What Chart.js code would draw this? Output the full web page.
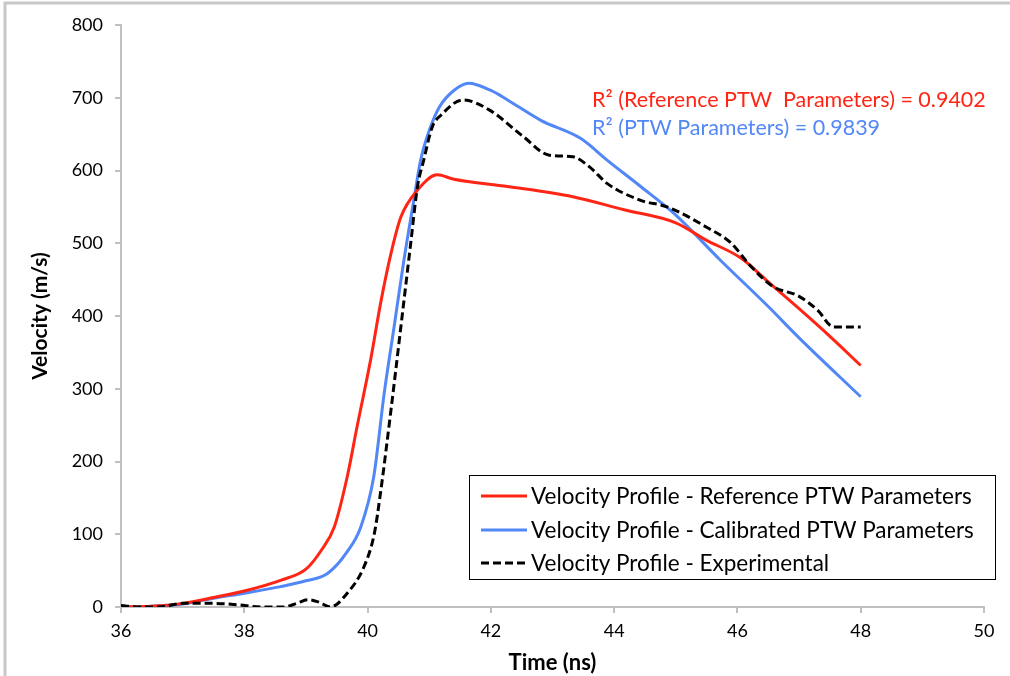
<!DOCTYPE html>
<html>
<head>
<meta charset="utf-8">
<script src="https://cdn.jsdelivr.net/npm/chart.js@4.4.1/dist/chart.umd.min.js"></script>
<style>
  html,body{margin:0;padding:0;background:#fff;}
  #wrap{width:1010px;height:676px;position:relative;}
</style>
</head>
<body>
<div id="wrap"><canvas id="chartVel" width="1010" height="676"></canvas></div>
<script>
// x ticks / y ticks
const xTicks = [36, 38, 40, 42, 44, 46, 48, 50];
const yTicks = [0, 100, 200, 300, 400, 500, 600, 700, 800];

// Velocity Profile - Reference PTW Parameters
const refTime = [36, 36.5, 37, 37.5, 38, 38.6, 39.0, 39.25, 39.46, 39.67, 39.83, 40.05, 40.21, 40.38, 40.54, 40.81, 41.13, 41.4, 42.27, 43.33, 44.16, 45.0, 45.5, 46.05, 46.5, 47.0, 47.5, 48];
const refVel  = [0, 1, 5, 13, 22, 37, 52, 78, 110, 179, 248, 340, 417, 486, 536, 573, 594, 588, 578, 564, 546, 528, 504, 480, 447, 410, 372, 332];

// Velocity Profile - Calibrated PTW Parameters
const calTime = [36, 36.5, 37, 37.5, 38, 38.59, 39.0, 39.35, 39.67, 39.89, 40.1, 40.27, 40.43, 40.59, 40.75, 40.86, 41.0, 41.17, 41.4, 41.64, 42.0, 42.27, 42.81, 43.46, 43.89, 44.43, 44.97, 45.72, 46.5, 47.0, 48];
const calVel  = [0, 1, 4, 12, 19, 28, 36, 46, 76, 110, 179, 294, 385, 477, 559, 614, 655, 688, 710, 720, 710, 697, 669, 644, 614, 578, 541, 477, 413, 370, 289];

// Velocity Profile - Experimental
const expTime = [36, 36.3, 36.6, 37.0, 37.5, 37.9, 38.27, 38.64, 38.85, 39.03, 39.2, 39.4, 39.67, 39.94, 40.11, 40.21, 40.38, 40.54, 40.7, 40.81, 40.91, 41.05, 41.19, 41.55, 41.98, 42.52, 42.95, 43.33, 43.6, 43.89, 44.43, 44.86, 45.5, 45.9, 46.2, 46.57, 47.0, 47.3, 47.56, 48];
const expVel  = [2, 0, 0, 5, 5, 3, 0, 0, 5, 10, 7, 0, 19, 55, 101, 157, 271, 385, 500, 578, 614, 660, 676, 697, 683, 647, 621, 619, 605, 582, 559, 550, 522, 500, 470, 441, 427, 408, 385, 385];

const seriesNames = ['Velocity Profile - Reference PTW Parameters', 'Velocity Profile - Calibrated PTW Parameters', 'Velocity Profile - Experimental'];
const r2Labels = ['R\u00B2 (Reference PTW  Parameters) = 0.9402', 'R\u00B2 (PTW Parameters) = 0.9839'];

const RED = '#ff2515', BLUE = '#5287f7', BLACK = '#000000', AXIS = '#c0c0c0';
const FONT = 'Lato, "Open Sans", sans-serif';

const pts = (xs, ys) => xs.map((x, i) => ({x: x, y: ys[i]}));

const boxLegend = {
  id: 'boxLegend',
  beforeDraw(chart) {
    const c = chart.ctx;
    c.save();
    c.fillStyle = '#fff';
    c.fillRect(0, 0, chart.width, chart.height);
    c.strokeStyle = '#c8c8c8';
    c.lineWidth = 3;
    c.beginPath();
    c.moveTo(5, chart.height + 5);
    c.lineTo(5, 3);
    c.lineTo(chart.width + 5, 3);
    c.stroke();
    c.restore();
  },
  afterDraw(chart) {
    const c = chart.ctx;
    c.save();
    // legend box
    c.fillStyle = '#fff';
    c.fillRect(469, 475, 526, 104);
    c.strokeStyle = '#000';
    c.lineWidth = 1;
    c.strokeRect(469.5, 475.5, 526, 104);
    const rows = [496, 530, 563];
    c.font = '22.5px ' + FONT;
    c.textBaseline = 'middle';
    chart.data.datasets.forEach((ds, i) => {
      c.strokeStyle = ds.borderColor;
      c.lineWidth = 3;
      c.setLineDash(ds.borderDash || []);
      c.beginPath();
      c.moveTo(481, rows[i]);
      c.lineTo(527, rows[i]);
      c.stroke();
      c.setLineDash([]);
      c.fillStyle = '#000';
      c.fillText(ds.label, 531, rows[i] + 1);
    });
    // R² notes
    c.font = '21.5px ' + FONT;
    c.textBaseline = 'alphabetic';
    c.fillStyle = RED;
    c.fillText(r2Labels[0], 592, 107);
    c.fillStyle = BLUE;
    c.fillText(r2Labels[1], 592, 135);
    c.restore();
  }
};

new Chart(document.getElementById('chartVel'), {
  type: 'line',
  data: {
    datasets: [
      {label: seriesNames[0], data: pts(refTime, refVel), borderColor: RED, borderWidth: 3, order: 1},
      {label: seriesNames[1], data: pts(calTime, calVel), borderColor: BLUE, borderWidth: 3, order: 2},
      {label: seriesNames[2], data: pts(expTime, expVel), borderColor: BLACK, borderWidth: 3, borderDash: [8, 4], order: 0}
    ]
  },
  options: {
    responsive: false,
    animation: false,
    devicePixelRatio: 1,
    layout: {padding: {left: 24, right: 26, top: 25, bottom: 0}},
    elements: {point: {radius: 0}, line: {cubicInterpolationMode: 'monotone', fill: false}},
    plugins: {legend: {display: false}, tooltip: {enabled: false}},
    scales: {
      x: {
        type: 'linear', min: 36, max: 50,
        afterBuildTicks: s => { s.ticks = xTicks.map(v => ({value: v})); },
        afterFit: s => { s.height = 69; },
        grid: {drawOnChartArea: false, drawTicks: true, tickLength: 6, color: AXIS, lineWidth: 2},
        border: {color: AXIS, width: 2},
        ticks: {color: '#000', font: {family: FONT, size: 18}, padding: 7, maxRotation: 0},
        title: {display: true, text: 'Time (ns)', color: '#000', font: {family: FONT, size: 22, weight: 'bold'}, padding: {top: 2, bottom: 0}}
      },
      y: {
        min: 0, max: 800,
        afterBuildTicks: s => { s.ticks = yTicks.map(v => ({value: v})); },
        afterFit: s => { s.width = 97; },
        grid: {drawOnChartArea: false, drawTicks: true, tickLength: 6, color: AXIS, lineWidth: 2},
        border: {color: AXIS, width: 2},
        ticks: {color: '#000', font: {family: FONT, size: 18}, padding: 12},
        title: {display: true, text: 'Velocity (m/s)', color: '#000', font: {family: FONT, size: 21, weight: 'bold'}, padding: {top: 4, bottom: 0}}
      }
    }
  },
  plugins: [boxLegend]
});
</script>
</body>
</html>
